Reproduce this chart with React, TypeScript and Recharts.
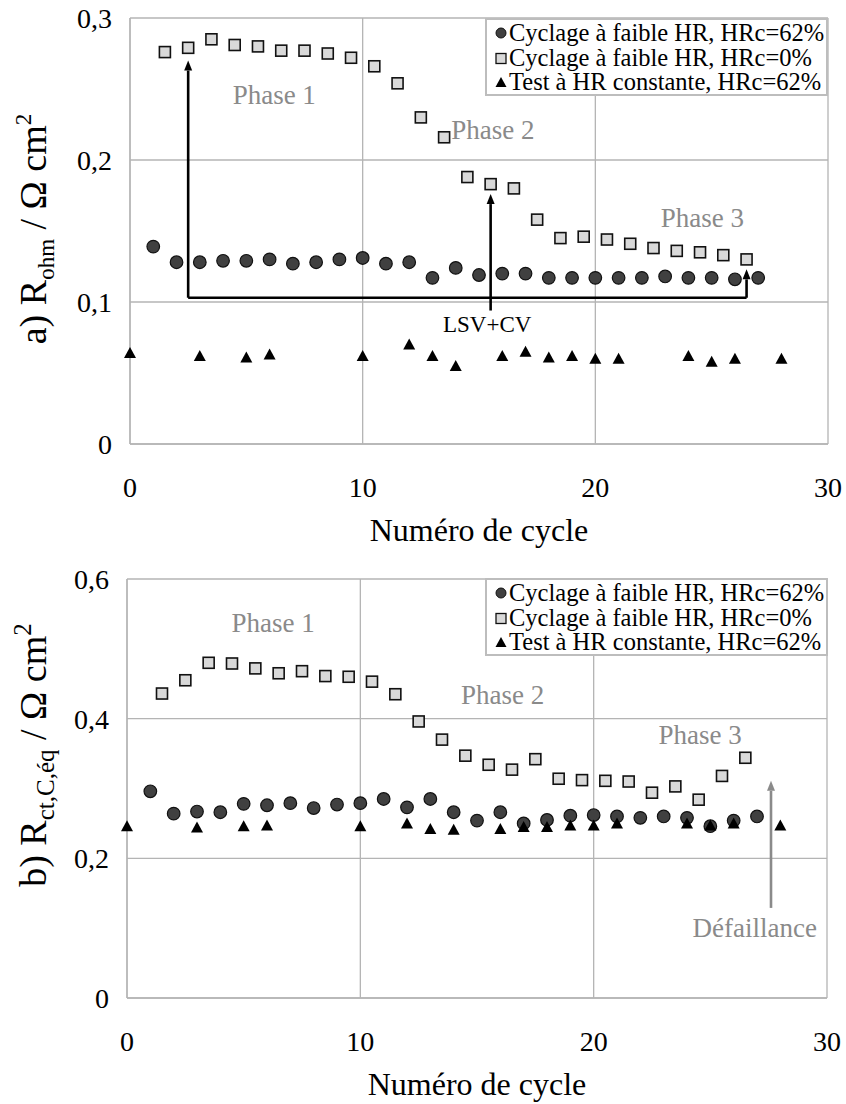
import React from 'react';
import {
    ScatterChart, Scatter, XAxis, YAxis, CartesianGrid, Legend,
    ReferenceLine, ReferenceDot, Label
} from 'recharts';

// --- data ---
const cyclesCircle = [1, 2, 3, 4, 5, 6, 7, 8, 9, 10, 11, 12, 13, 14, 15, 16, 17, 18, 19, 20, 21, 22, 23, 24, 25, 26, 27];
const cyclesSquare = [1.5, 2.5, 3.5, 4.5, 5.5, 6.5, 7.5, 8.5, 9.5, 10.5, 11.5, 12.5, 13.5, 14.5, 15.5, 16.5, 17.5, 18.5, 19.5, 20.5, 21.5, 22.5, 23.5, 24.5, 25.5, 26.5];
const cyclesTriangle = [0, 3, 5, 6, 10, 12, 13, 14, 16, 17, 18, 19, 20, 21, 24, 25, 26, 28];

// a) R_ohm
const ohmCircle = [0.139, 0.128, 0.128, 0.129, 0.129, 0.130, 0.127, 0.128, 0.130, 0.131, 0.127, 0.128, 0.117, 0.124, 0.119, 0.120, 0.120, 0.117, 0.117, 0.117, 0.117, 0.117, 0.118, 0.117, 0.117, 0.116, 0.117];
const ohmSquare = [0.276, 0.279, 0.285, 0.281, 0.280, 0.277, 0.277, 0.275, 0.272, 0.266, 0.254, 0.230, 0.216, 0.188, 0.183, 0.180, 0.158, 0.145, 0.146, 0.144, 0.141, 0.138, 0.136, 0.135, 0.133, 0.130];
const ohmTriangle = [0.064, 0.062, 0.061, 0.063, 0.062, 0.070, 0.062, 0.055, 0.062, 0.065, 0.061, 0.062, 0.060, 0.060, 0.062, 0.058, 0.060, 0.060];

// b) R_ct,C,éq
const ctCircle = [0.296, 0.264, 0.267, 0.266, 0.278, 0.276, 0.279, 0.272, 0.277, 0.279, 0.285, 0.273, 0.285, 0.266, 0.254, 0.266, 0.250, 0.255, 0.261, 0.262, 0.260, 0.258, 0.260, 0.258, 0.246, 0.254, 0.260];
const ctSquare = [0.436, 0.455, 0.480, 0.479, 0.472, 0.465, 0.468, 0.461, 0.460, 0.453, 0.435, 0.396, 0.370, 0.347, 0.334, 0.327, 0.342, 0.314, 0.312, 0.311, 0.310, 0.294, 0.303, 0.284, 0.318, 0.344];
const ctTriangle = [0.246, 0.244, 0.246, 0.247, 0.246, 0.250, 0.242, 0.241, 0.242, 0.245, 0.245, 0.247, 0.247, 0.250, 0.250, 0.247, 0.250, 0.247];

const seriesNames = [
    'Cyclage à faible HR, HRc=62%',
    'Cyclage à faible HR, HRc=0%',
    'Test à HR constante, HRc=62%',
];
const xTicks = [0, 10, 20, 30];
const ohmTicks = [0, 0.1, 0.2, 0.3];
const ctTicks = [0, 0.2, 0.4, 0.6];

const FONT = "'Liberation Serif', 'DejaVu Serif', 'Times New Roman', Times, serif";
const GRID = '#b4b4b4';
const PHASE_GREY = '#8a8a8a';

const pts = (xs: number[], ys: number[]) => xs.map((x, i) => ({ x, y: ys[i] }));
const fmt = (v: number) => String(v).replace('.', ',');

const CircleDot = (p: any) => <circle cx={p.cx} cy={p.cy} r={6.3} fill="#404040" stroke="#111" strokeWidth={1.2} />;
const SquareDot = (p: any) => <rect x={p.cx - 5.5} y={p.cy - 5.5} width={11} height={11} fill="#d9d9d9" stroke="#111" strokeWidth={1.6} />;
const TriDot = (p: any) => <polygon points={`${p.cx},${p.cy - 6} ${p.cx - 6},${p.cy + 5} ${p.cx + 6},${p.cy + 5}`} fill="#000" />;

const icons = [
    <circle cx={7} cy={7} r={5} fill="#404040" stroke="#111" strokeWidth={1} />,
    <rect x={2} y={2.5} width={10} height={10} fill="#d9d9d9" stroke="#111" strokeWidth={1.3} />,
    <polygon points="7,2 1.5,12 12.5,12" fill="#000" />,
];

const LegendBox = (props: any) => {
    const payload = [...(props.payload || [])].sort(
        (a: any, b: any) => seriesNames.indexOf(a.value) - seriesNames.indexOf(b.value)
    );
    return (
        <div style={{
            border: '2px solid #bdbdbd', background: '#fff', boxSizing: 'border-box',
            width: 343, height: 78, padding: '1px 0 0 7px', fontFamily: FONT, fontSize: 24.5,
            lineHeight: '24.5px', color: '#000'
        }}>
            {payload.map((entry: any) => {
                const idx = seriesNames.indexOf(entry.value);
                return (
                    <div key={entry.value} style={{ display: 'flex', alignItems: 'center', whiteSpace: 'nowrap' }}>
                        <svg width={14} height={14} style={{ marginRight: 1 }}>{icons[idx]}</svg>
                        <span>{entry.value}</span>
                    </div>
                );
            })}
        </div>
    );
};

// arrow drawn along a ReferenceLine segment
const arrowShape = (color: string, head: boolean) => (p: any) => {
    const { x1, y1, x2, y2 } = p;
    const dx = x2 - x1, dy = y2 - y1;
    const len = Math.sqrt(dx * dx + dy * dy) || 1;
    const ux = dx / len, uy = dy / len;
    const hl = 10, hw = 4;
    const bx = x2 - ux * hl, by = y2 - uy * hl;
    return (
        <g>
            <line x1={x1} y1={y1} x2={head ? bx : x2} y2={head ? by : y2} stroke={color} strokeWidth={2.6} />
            {head && (
                <polygon
                    points={`${x2},${y2} ${bx - uy * hw},${by + ux * hw} ${bx + uy * hw},${by - ux * hw}`}
                    fill={color}
                />
            )}
        </g>
    );
};

const textShape = (text: string, size: number, color: string) => (p: any) => (
    <text x={p.cx} y={p.cy} textAnchor="middle" dominantBaseline="central" style={{ fontFamily: FONT }} fontSize={size} fill={color}>
        {text}
    </text>
);

const yTitle = (main: string, sub: string, cy: number, size: number, subSize: number) => (props: any) => {
    const x = 46;
    return (
        <text transform={`translate(${x},${cy}) rotate(-90)`} textAnchor="middle" style={{ fontFamily: FONT }} fontSize={size} fill="#000">
            <tspan>{main} R</tspan>
            <tspan fontSize={subSize} dy={8}>{sub}</tspan>
            <tspan dy={-8}> / Ω cm</tspan>
            <tspan fontSize={subSize} dy={-15}>2</tspan>
        </text>
    );
};

const xTitle = (props: any) => {
    const vb = props.viewBox || {};
    return (
        <text x={vb.x + vb.width / 2} y={vb.y + 97} textAnchor="middle" style={{ fontFamily: FONT }} fontSize={32} fill="#000">
            Numéro de cycle
        </text>
    );
};

const tickStyle = { fill: '#000', fontSize: 28, fontFamily: FONT, style: { fontFamily: FONT } };

export default function App() {
    return (
        <div style={{ position: 'absolute', left: 0, top: 0, width: 846, height: 1104, background: '#fff', fontFamily: FONT }}>
            {/* a) ohmic resistance */}
            <div style={{ position: 'absolute', left: 0, top: 0 }}>
                <ScatterChart width={846} height={560} margin={{ top: 18, right: 18, bottom: 0, left: 0 }} style={{ fontFamily: FONT }}>
                    <CartesianGrid stroke={GRID} strokeWidth={1.3} />
                    <XAxis type="number" dataKey="x" domain={[0, 30]} ticks={xTicks} height={116}
                        axisLine={{ stroke: GRID, strokeWidth: 1.3 }} tickLine={false} tickSize={0} tickMargin={33}
                        tick={tickStyle} interval={0}>
                        <Label content={xTitle} />
                    </XAxis>
                    <YAxis type="number" dataKey="y" domain={[0, 0.3]} ticks={ohmTicks} width={130}
                        axisLine={{ stroke: GRID, strokeWidth: 1.3 }} tickLine={false} tickSize={0} tickMargin={18}
                        tick={tickStyle} tickFormatter={fmt} interval={0}>
                        <Label content={yTitle('a)', 'ohm', 229, 38, 23)} />
                    </YAxis>
                    <Legend layout="vertical" align="center" verticalAlign="middle" content={LegendBox}
                        wrapperStyle={{ left: 485, top: 18, width: 343, height: 78 }} />

                    <ReferenceLine segment={[{ x: 2.5, y: 0.103 }, { x: 26.5, y: 0.103 }]} shape={arrowShape('#000', false)} />
                    <ReferenceLine segment={[{ x: 2.5, y: 0.103 }, { x: 2.5, y: 0.270 }]} shape={arrowShape('#000', true)} />
                    <ReferenceLine segment={[{ x: 15.5, y: 0.094 }, { x: 15.5, y: 0.176 }]} shape={arrowShape('#000', true)} />
                    <ReferenceLine segment={[{ x: 26.5, y: 0.103 }, { x: 26.5, y: 0.123 }]} shape={arrowShape('#000', true)} />

                    <Scatter name={seriesNames[0]} data={pts(cyclesCircle, ohmCircle)} shape={CircleDot} isAnimationActive={false} />
                    <Scatter name={seriesNames[1]} data={pts(cyclesSquare, ohmSquare)} shape={SquareDot} isAnimationActive={false} />
                    <Scatter name={seriesNames[2]} data={pts(cyclesTriangle, ohmTriangle)} shape={TriDot} isAnimationActive={false} />

                    <ReferenceDot x={6.2} y={0.246} r={0} shape={textShape('Phase 1', 27, PHASE_GREY)} />
                    <ReferenceDot x={15.6} y={0.221} r={0} shape={textShape('Phase 2', 27, PHASE_GREY)} />
                    <ReferenceDot x={24.6} y={0.159} r={0} shape={textShape('Phase 3', 27, PHASE_GREY)} />
                    <ReferenceDot x={15.35} y={0.084} r={0} shape={textShape('LSV+CV', 23, '#000')} />
                </ScatterChart>
            </div>

            {/* b) charge transfer resistance */}
            <div style={{ position: 'absolute', left: 0, top: 560 }}>
                <ScatterChart width={846} height={544} margin={{ top: 19, right: 19, bottom: 0, left: 0 }} style={{ fontFamily: FONT }}>
                    <CartesianGrid stroke={GRID} strokeWidth={1.3} />
                    <XAxis type="number" dataKey="x" domain={[0, 30]} ticks={xTicks} height={106}
                        axisLine={{ stroke: GRID, strokeWidth: 1.3 }} tickLine={false} tickSize={0} tickMargin={33}
                        tick={tickStyle} interval={0}>
                        <Label content={xTitle} />
                    </XAxis>
                    <YAxis type="number" dataKey="y" domain={[0, 0.6]} ticks={ctTicks} width={127}
                        axisLine={{ stroke: GRID, strokeWidth: 1.3 }} tickLine={false} tickSize={0} tickMargin={18}
                        tick={tickStyle} tickFormatter={fmt} interval={0}>
                        <Label content={yTitle('b)', 'ct,C,éq', 195, 38, 25)} />
                    </YAxis>
                    <Legend layout="vertical" align="center" verticalAlign="middle" content={LegendBox}
                        wrapperStyle={{ left: 485, top: 18, width: 343, height: 76 }} />

                    <ReferenceLine segment={[{ x: 27.6, y: 0.129 }, { x: 27.6, y: 0.311 }]} shape={arrowShape('#8a8a8a', true)} />

                    <Scatter name={seriesNames[0]} data={pts(cyclesCircle, ctCircle)} shape={CircleDot} isAnimationActive={false} />
                    <Scatter name={seriesNames[1]} data={pts(cyclesSquare, ctSquare)} shape={SquareDot} isAnimationActive={false} />
                    <Scatter name={seriesNames[2]} data={pts(cyclesTriangle, ctTriangle)} shape={TriDot} isAnimationActive={false} />

                    <ReferenceDot x={6.26} y={0.537} r={0} shape={textShape('Phase 1', 27, PHASE_GREY)} />
                    <ReferenceDot x={16.1} y={0.434} r={0} shape={textShape('Phase 2', 27, PHASE_GREY)} />
                    <ReferenceDot x={24.56} y={0.376} r={0} shape={textShape('Phase 3', 27, PHASE_GREY)} />
                    <ReferenceDot x={26.9} y={0.1} r={0} shape={textShape('Défaillance', 27, PHASE_GREY)} />
                </ScatterChart>
            </div>
        </div>
    );
}
